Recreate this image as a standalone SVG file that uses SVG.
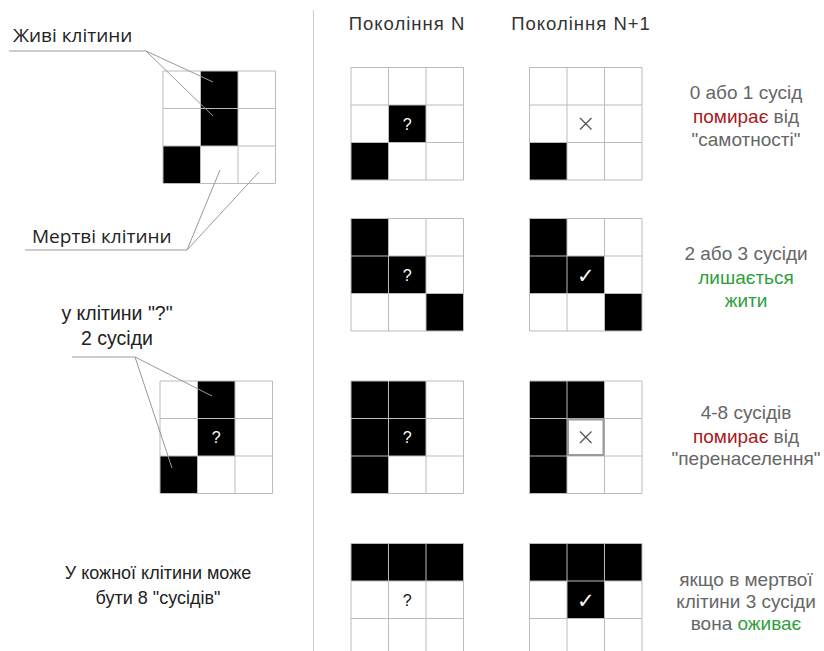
<svg xmlns="http://www.w3.org/2000/svg" xmlns:xlink="http://www.w3.org/1999/xlink" width="824" height="651" viewBox="0 0 824 651">
<style>
.lbl{font-family:"Open Sans","Liberation Sans",sans-serif;font-size:19px;fill:#222}
.lbl3{font-family:"Liberation Sans","Noto Sans",sans-serif;font-size:19.5px;fill:#222;text-anchor:middle}
.lbl2{font-family:"Liberation Sans","Noto Sans",sans-serif;font-size:18px;fill:#222;text-anchor:middle}
.hdr{font-family:"Liberation Sans","Noto Sans",sans-serif;font-size:18.5px;fill:#333;letter-spacing:1px}
.rule{font-family:"Liberation Sans","Noto Sans",sans-serif;font-size:19px;fill:#666;text-anchor:middle}
.red{fill:#a8181c}
.grn{fill:#2f9e3c}
.q{font-family:"Liberation Sans",sans-serif;font-size:16px;text-anchor:middle}
.wq{fill:#fff}
.bq{fill:#111}
.chk{font-family:"DejaVu Sans",sans-serif;font-size:21px;fill:#fff;text-anchor:middle;font-weight:bold}
.x{stroke:#555;stroke-width:1.3;fill:none}
.gl{stroke:#bbb;stroke-width:1;fill:none}
.lead{stroke:#999;stroke-width:1;fill:none}
.c{fill:#000}
</style>
<defs>
<g id="grid">
<path class="gl" d="M0,0H112.5V112.5H0Z M37.5,0V112.5 M75,0V112.5 M0,37.5H112.5 M0,75H112.5"/>
</g>
</defs>
<rect width="824" height="651" fill="#fff"/>
<line x1="313.5" y1="10" x2="313.5" y2="651" stroke="#ccc" stroke-width="1"/>

<g id="legend-top">
<text class="lbl" x="13" y="42">Живі клітини</text>
<text class="lbl" x="32" y="243">Мертві клітини</text>
<g transform="translate(163,71)">
<rect class="c" x="37.5" y="0" width="37.5" height="75"/>
<rect class="c" x="0" y="75" width="37.5" height="37.5"/>
<use xlink:href="#grid"/>
</g>
</g>

<g id="legend-neighbours">
<text class="lbl3" x="117" y="320">у клітини "?"</text>
<text class="lbl3" x="117" y="345">2 сусіди</text>
<g transform="translate(160,381)">
<rect class="c" x="37.5" y="0" width="37.5" height="75"/>
<rect class="c" x="0" y="75" width="37.5" height="37.5"/>
<use xlink:href="#grid"/>
<text class="q wq" x="56.25" y="62">?</text>
</g>
</g>

<g id="legend-eight">
<text class="lbl2" x="158" y="579">У кожної клітини може</text>
<text class="lbl2" x="158" y="604">бути 8 "сусідів"</text>
</g>

<g id="connectors">
<path class="lead" d="M9,51H146L213,82 M146,51L213,116"/>
<path class="lead" d="M25,250H187L220,170 M187,250L259,172"/>
<path class="lead" d="M72,357H135L212,396 M135,357L172,468"/>
</g>

<g id="headers">
<text class="hdr" x="407" y="30" text-anchor="middle">Покоління N</text>
<text class="hdr" x="581" y="30" text-anchor="middle">Покоління N+1</text>
</g>

<g id="row1-n" transform="translate(351,67.5)">
<rect class="c" x="37.5" y="37.5" width="37.5" height="37.5"/>
<rect class="c" x="0" y="75" width="37.5" height="37.5"/>
<use xlink:href="#grid"/>
<text class="q wq" x="56.25" y="62">?</text>
</g>
<g id="row1-n1" transform="translate(529.5,67.5)">
<rect class="c" x="0" y="75" width="37.5" height="37.5"/>
<use xlink:href="#grid"/>
<path class="x" d="M50.5,50.5L62,62 M62,50.5L50.5,62"/>
</g>
<g id="row1-text">
<text class="rule" x="746" y="99">0 або 1 сусід</text>
<text class="rule" x="746" y="123"><tspan class="red">помирає</tspan> від</text>
<text class="rule" x="746" y="146">"самотності"</text>
</g>

<g id="row2-n" transform="translate(351,218.5)">
<rect class="c" x="0" y="0" width="37.5" height="75"/>
<rect class="c" x="37.5" y="37.5" width="37.5" height="37.5"/>
<rect class="c" x="75" y="75" width="37.5" height="37.5"/>
<use xlink:href="#grid"/>
<text class="q wq" x="56.25" y="62">?</text>
</g>
<g id="row2-n1" transform="translate(529.5,218.5)">
<rect class="c" x="0" y="0" width="37.5" height="75"/>
<rect class="c" x="37.5" y="37.5" width="37.5" height="37.5"/>
<rect class="c" x="75" y="75" width="37.5" height="37.5"/>
<use xlink:href="#grid"/>
<text class="chk" x="56.25" y="64">✓</text>
</g>
<g id="row2-text">
<text class="rule" x="746" y="260">2 або 3 сусіди</text>
<text class="rule grn" x="746" y="284">лишається</text>
<text class="rule grn" x="746" y="307">жити</text>
</g>

<g id="row3-n" transform="translate(351,381)">
<rect class="c" x="0" y="0" width="37.5" height="112.5"/>
<rect class="c" x="37.5" y="0" width="37.5" height="75"/>
<use xlink:href="#grid"/>
<text class="q wq" x="56.25" y="62">?</text>
</g>
<g id="row3-n1" transform="translate(529.5,381)">
<rect class="c" x="0" y="0" width="37.5" height="112.5"/>
<rect class="c" x="37.5" y="0" width="37.5" height="37.5"/>
<use xlink:href="#grid"/>
<rect x="38.5" y="38.5" width="35.5" height="35.5" fill="none" stroke="#999" stroke-width="2"/>
<path class="x" d="M50.5,50.5L62,62 M62,50.5L50.5,62"/>
</g>
<g id="row3-text">
<text class="rule" x="746" y="419">4-8 сусідів</text>
<text class="rule" x="746" y="443"><tspan class="red">помирає</tspan> від</text>
<text class="rule" x="746" y="465">"перенаселення"</text>
</g>

<g id="row4-n" transform="translate(351,543.5)">
<rect class="c" x="0" y="0" width="112.5" height="37.5"/>
<use xlink:href="#grid"/>
<text class="q bq" x="56.25" y="62">?</text>
</g>
<g id="row4-n1" transform="translate(529.5,543.5)">
<rect class="c" x="0" y="0" width="112.5" height="37.5"/>
<rect class="c" x="37.5" y="37.5" width="37.5" height="37.5"/>
<use xlink:href="#grid"/>
<text class="chk" x="56.25" y="64">✓</text>
</g>
<g id="row4-text">
<text class="rule" x="746" y="586">якщо в мертвої</text>
<text class="rule" x="746" y="608">клітини 3 сусіди</text>
<text class="rule" x="746" y="630">вона <tspan class="grn">оживає</tspan></text>
</g>
</svg>
